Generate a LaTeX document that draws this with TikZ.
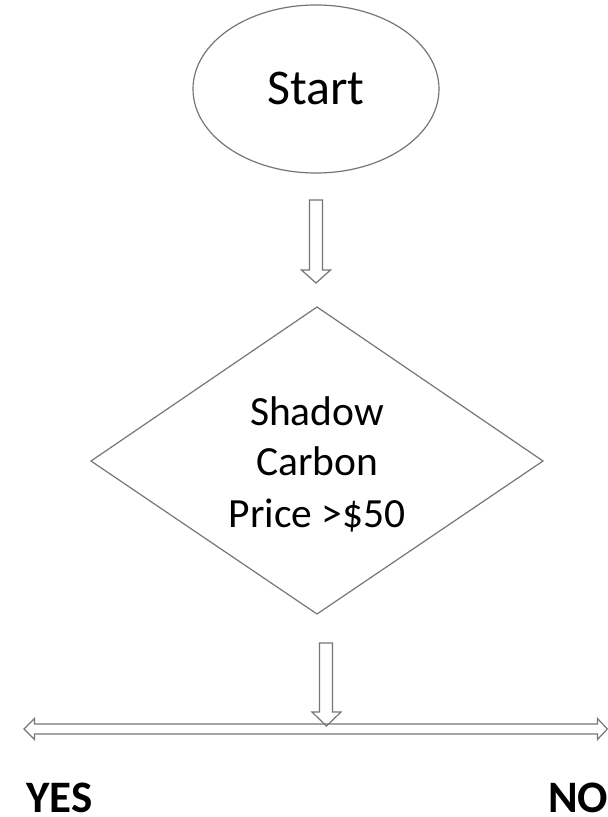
\documentclass[tikz,border=0pt]{standalone}
\usepackage{fontspec}
\setmainfont{Carlito}
\usetikzlibrary{shapes.geometric}
\definecolor{linegray}{RGB}{118,118,118}
\begin{document}
\begin{tikzpicture}[x=1pt,y=-1pt,
  outline/.style={draw=linegray, line width=1.2pt, line join=miter},
  bigtext/.style={anchor=base, inner sep=0pt, font=\fontsize{41.5}{49}\selectfont},
  starttext/.style={anchor=base, inner sep=0pt, font=\fontsize{50}{58}\selectfont},
  labeltext/.style={anchor=base west, inner sep=0pt, font=\fontsize{45}{52}\selectfont\bfseries}]
\useasboundingbox[fill=white] (0,0) rectangle (608,817);
% Start ellipse
\node[ellipse, outline, minimum width=246pt, minimum height=168pt, inner sep=0pt] (start) at (316,89) {};
\node[starttext] (startlbl) at (316,104.5) {Start};
% Diamond
\coordinate (dtop) at (317,307);
\coordinate (dleft) at (91,461);
\coordinate (dright) at (543,461);
\coordinate (dbot) at (317,614);
\draw[outline] (dtop) -- (dright) -- (dbot) -- (dleft) -- cycle;
\node[bigtext] (l1) at (317,425) {Shadow};
\node[bigtext] (l2) at (317,475) {Carbon};
\node[bigtext] (l3) at (317,527) {Price >\$50};
% Block arrow 1
\draw[outline, fill=white] (309.5,200) -- (322.5,200) -- (322.5,270) -- (330.5,270) -- (316,283) -- (301.5,270) -- (309.5,270) -- cycle;
% Block arrow 2
\draw[outline, fill=white] (319.5,643) -- (332.5,643) -- (332.5,712) -- (341,712) -- (326.5,726) -- (312,712) -- (319.5,712) -- cycle;
% Horizontal double arrow
\draw[outline] (24,729) -- (34.5,718.5) -- (34.5,724) -- (597.5,724) -- (597.5,718.5) -- (607.3,729) -- (597.5,739.5) -- (597.5,734) -- (34.5,734) -- (34.5,739.5) -- cycle;
% Labels
\node[labeltext] (yes) at (26,812.3) {YES};
\node[labeltext] (no) at (548,812.3) {NO};
\end{tikzpicture}
\end{document}
